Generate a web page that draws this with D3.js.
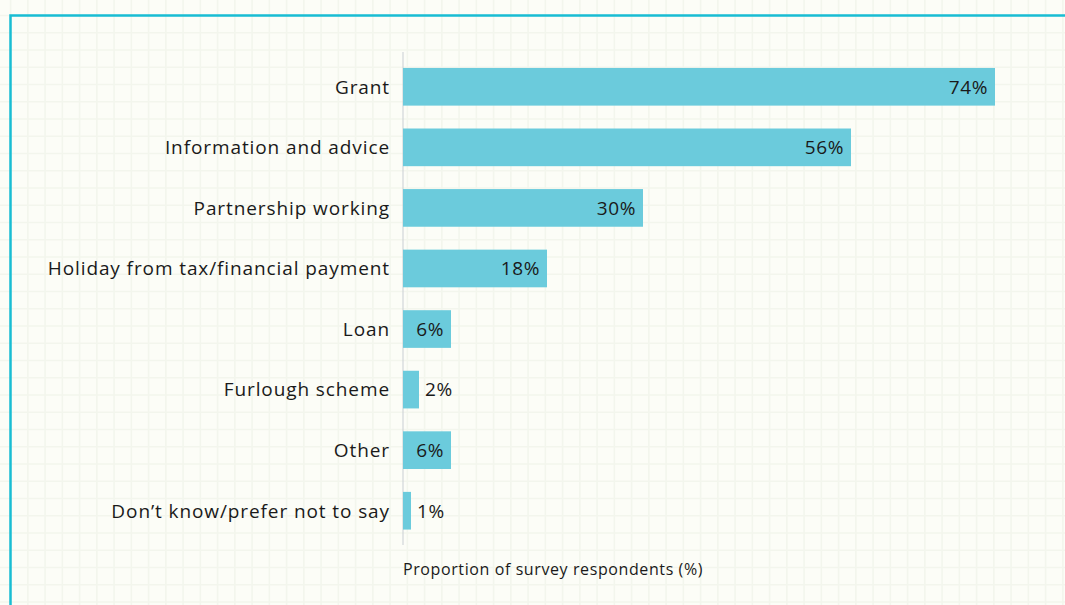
<!DOCTYPE html>
<html>
<head>
<meta charset="utf-8">
<script src="https://cdn.jsdelivr.net/npm/d3@7"></script>
<style>
  html, body { margin: 0; padding: 0; background: #fcfdf7; }
  svg { display: block; }
  text { font-family: "Open Sans", Lato, sans-serif; fill: #1a1a1a; }
</style>
</head>
<body>
<svg id="chart" width="1065" height="605"></svg>
<script>
// Forms of support received
const categories = [
  "Grant",
  "Information and advice",
  "Partnership working",
  "Holiday from tax/financial payment",
  "Loan",
  "Furlough scheme",
  "Other",
  "Don\u2019t know/prefer not to say"
];
const values = [74, 56, 30, 18, 6, 2, 6, 1];
const axisTitle = "Proportion of survey respondents (%)";

const W = 1065, H = 605;
const svg = d3.select("#chart");
const FONT = "'Open Sans', Lato, sans-serif";

// Squared paper background
const gridStep = 17.25;
const gridColor = "#f3f6ed";
const grid = svg.append("g");
for (let x = 10.6; x < W; x += gridStep) {
  grid.append("line").attr("x1", x).attr("x2", x).attr("y1", 0).attr("y2", H)
    .attr("stroke", gridColor).attr("stroke-width", 1.6);
}
for (let y = 15.5 - gridStep; y < H; y += gridStep) {
  grid.append("line").attr("y1", y).attr("y2", y).attr("x1", 0).attr("x2", W)
    .attr("stroke", gridColor).attr("stroke-width", 1.6);
}

// Panel frame (top and left edges)
svg.append("path")
  .attr("d", `M10.5,${H} V15.5 H${W + 5}`)
  .attr("fill", "none")
  .attr("stroke", "#19bdd3")
  .attr("stroke-width", 2.5);

// Scales
const x = d3.scaleLinear().domain([0, 74]).range([403, 995]);
const y = d3.scaleBand()
  .domain(categories)
  .range([56.5, 541])
  .paddingInner(0.378)
  .paddingOuter(0.189);

// Baseline axis
svg.append("line")
  .attr("x1", x(0)).attr("x2", x(0))
  .attr("y1", 52).attr("y2", 545)
  .attr("stroke", "#c9ced3").attr("stroke-width", 1);

// Bars
svg.append("g").selectAll("rect")
  .data(values)
  .join("rect")
  .attr("x", x(0))
  .attr("y", (d, i) => y(categories[i]))
  .attr("width", d => x(d) - x(0))
  .attr("height", y.bandwidth())
  .attr("fill", "#6bcbdc");

// Category labels
const yAxis = d3.axisLeft(y).tickSize(0).tickPadding(13);
const ya = svg.append("g").attr("transform", `translate(${x(0)},0)`).call(yAxis);
ya.select(".domain").remove();
ya.selectAll("text")
  .attr("font-size", 19)
  .attr("font-family", FONT)
  .attr("letter-spacing", "0.9px")
  .attr("dy", "0.36em")
  .attr("fill", "#1a1a1a");

// Value labels
svg.append("g").selectAll("text")
  .data(values)
  .join("text")
  .attr("x", d => d >= 5 ? x(d) - 7 : x(d) + 6)
  .attr("y", (d, i) => y(categories[i]) + y.bandwidth() / 2)
  .attr("dy", "0.36em")
  .attr("text-anchor", d => d >= 5 ? "end" : "start")
  .attr("font-size", 19)
  .attr("letter-spacing", "0.6px")
  .text(d => d + "%");

// Axis title
svg.append("text")
  .attr("x", x(0))
  .attr("y", 575)
  .attr("font-size", 16)
  .attr("letter-spacing", "0.6px")
  .text(axisTitle);
</script>
</body>
</html>
